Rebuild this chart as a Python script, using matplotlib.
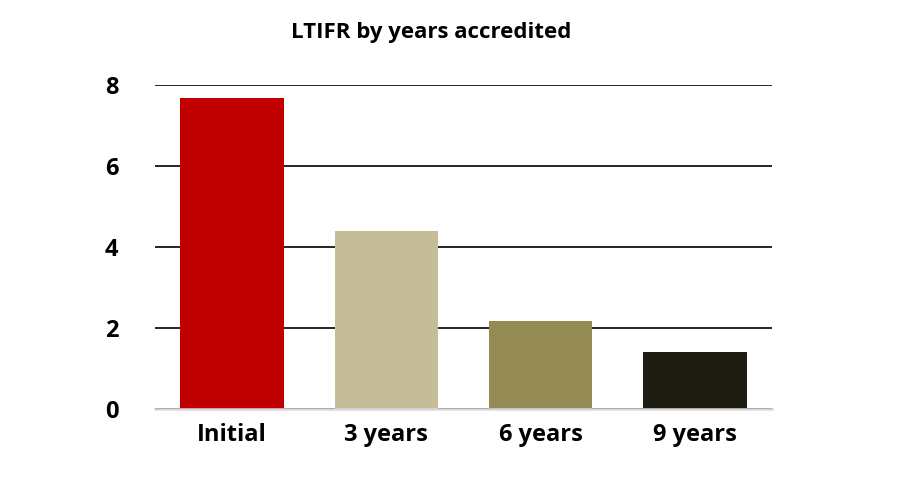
import matplotlib
matplotlib.use("Agg")
import matplotlib.pyplot as plt

categories = ["Initial", "3 years", "6 years", "9 years"]
ltifr = [7.68, 4.40, 2.18, 1.42]
colors = ["#C00000", "#C4BD97", "#948A54", "#1E1C11"]

plt.rcParams["font.family"] = "Open Sans"
fig = plt.figure(figsize=(8.99, 4.93), dpi=100)
ax = fig.add_axes([0.172, 0.170, 0.687, 0.658])

ax.bar(range(len(categories)), ltifr, width=0.67, color=colors, zorder=3)
ax.set_xlim(-0.5, len(categories) - 0.5)
ax.set_ylim(0, 8)
ax.set_yticks([0, 2, 4, 6, 8])
ax.yaxis.grid(True, color="black", linewidth=1.2, zorder=0)
ax.set_xticks(range(len(categories)))
ax.set_xticklabels(categories)
ax.tick_params(length=0, labelsize=17, pad=10)
for lbl in ax.get_xticklabels() + ax.get_yticklabels():
    lbl.set_fontweight("bold")
ax.tick_params(axis="y", pad=26)
for side in ("top", "right", "left"):
    ax.spines[side].set_visible(False)
ax.spines["bottom"].set_color("#D9D9D9")
ax.spines["bottom"].set_linewidth(1.8)
ax.spines["bottom"].set_zorder(4)

fig.text(0.48, 0.935, "LTIFR by years accredited", ha="center", va="center",
         fontsize=16, fontweight="bold")
fig.savefig("out.png", dpi=100)
